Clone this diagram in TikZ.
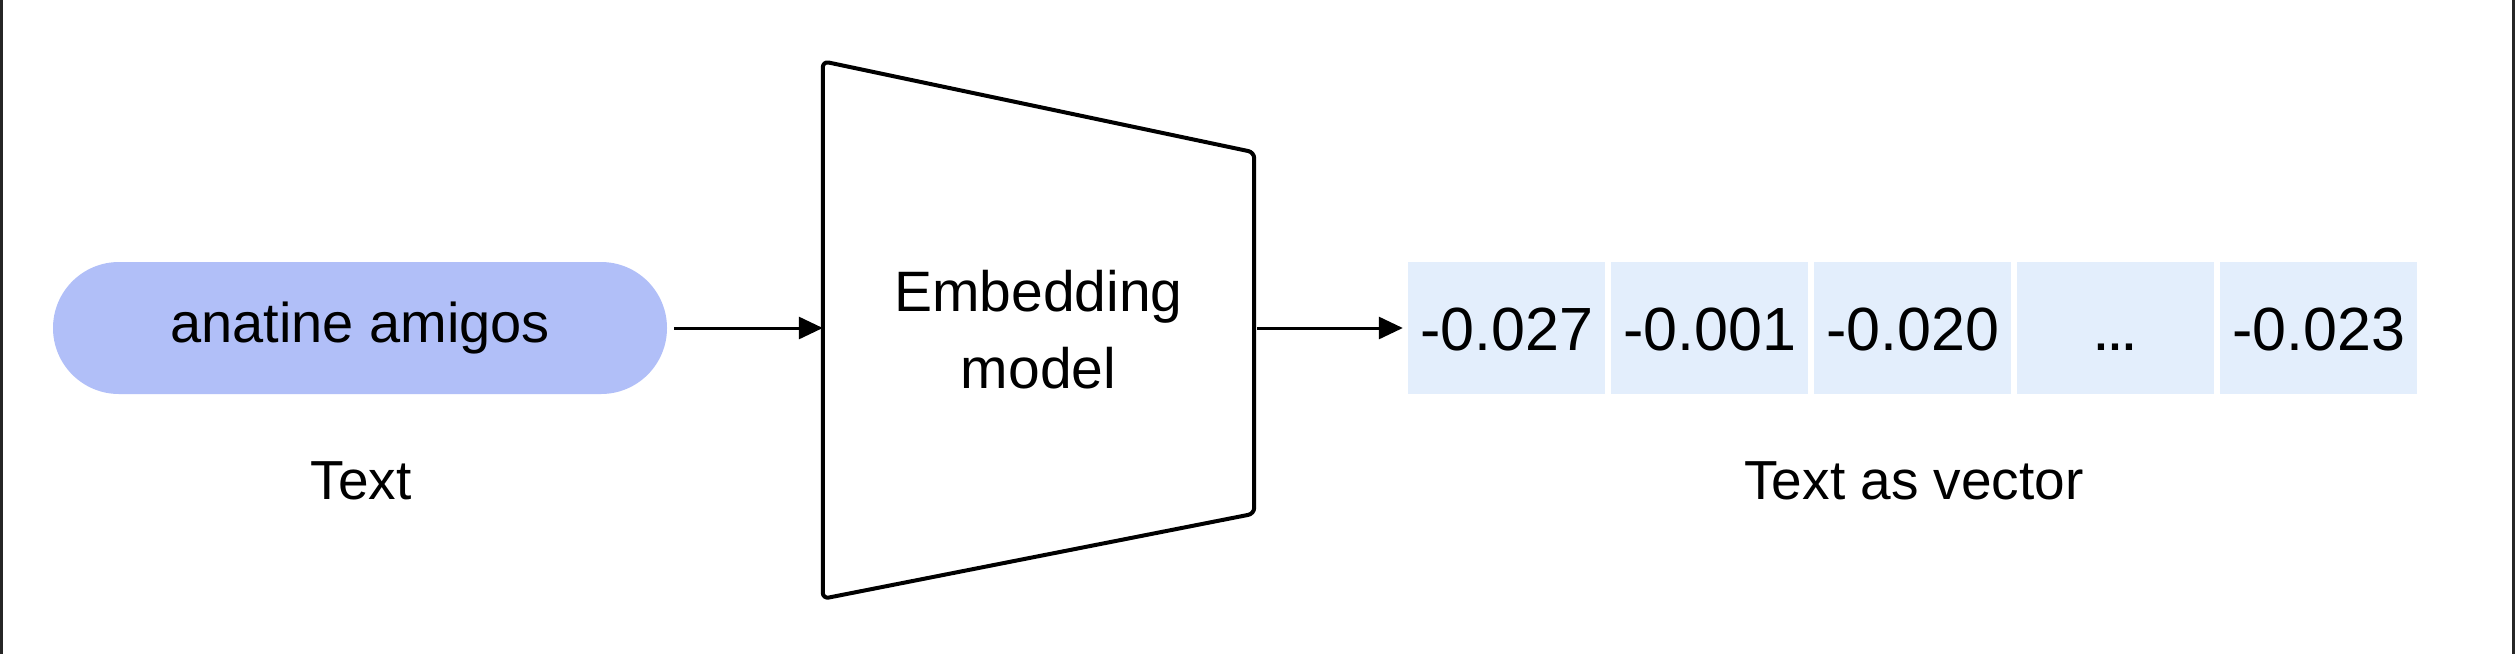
\documentclass[tikz,border=0pt]{standalone}
\usepackage{fontspec}
\setmainfont{Liberation Sans}
\usetikzlibrary{arrows.meta}
\definecolor{pillblue}{HTML}{B1BFF8}
\definecolor{cellblue}{HTML}{E3EEFC}
\begin{document}
\begin{tikzpicture}[x=1pt,y=-1pt,
  pill/.style={fill=pillblue, rounded corners=66pt, minimum width=614pt, minimum height=132pt, inner sep=0pt, font=\fontsize{56}{66}\selectfont},
  cell/.style={fill=cellblue, minimum width=197pt, minimum height=132pt, inner sep=0pt, text height=44pt, text depth=0pt, font=\fontsize{61}{70}\selectfont},
  lbl/.style={font=\fontsize{55}{66}\selectfont, inner sep=0pt},
  conn/.style={line width=3pt, -{Triangle[length=24pt,width=22pt]}},
  shapeline/.style={line width=4pt, rounded corners=6pt, line join=round},
  edge/.style={line width=3pt, black!85}
]
\useasboundingbox (0,0) rectangle (2515,654);
\fill[white] (0,0) rectangle (2515,654);
\draw[edge] (1.5,0) -- (1.5,654);
\draw[edge] (2513.5,0) -- (2513.5,654);

\node[pill] (pill) at (360,328) {anatine amigos};
\node[lbl] (txt) at (361,481) {Text};

\node[minimum width=431pt, minimum height=537pt, inner sep=0pt, align=center, font=\fontsize{57}{77}\selectfont] (model) at (1038.5,330) {Embedding\\model};
\draw[shapeline] (model.north west) -- ([yshift=-91pt]model.north east) -- ([yshift=85pt]model.south east) -- (model.south west) -- cycle;

\node[cell] (c1) at (1506.5,328) {-0.027};
\node[cell] (c2) at (1709.5,328) {-0.001};
\node[cell] (c3) at (1912.5,328) {-0.020};
\node[cell] (c4) at (2115.5,328) {\fontsize{44}{48}\selectfont\bfseries …};
\node[cell] (c5) at (2318.5,328) {-0.023};
\node[lbl] (vec) at (1914,481) {Text as vector};

\draw[conn, shorten <=7pt] (pill.east) -- (pill.east -| model.west);
\draw[conn, shorten <=3pt, shorten >=5pt] (model.east |- c1.west) -- (c1.west);
\end{tikzpicture}
\end{document}
